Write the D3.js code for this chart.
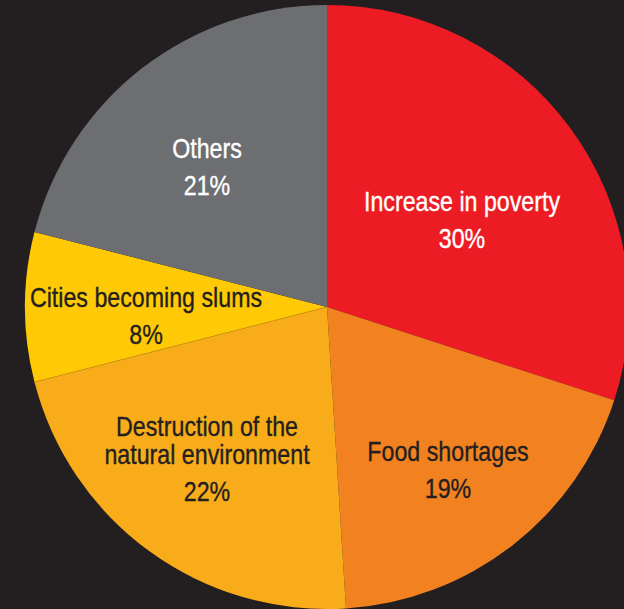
<!DOCTYPE html>
<html>
<head>
<meta charset="utf-8">
<script src="https://cdn.jsdelivr.net/npm/d3@7"></script>
<style>
  html, body { margin: 0; padding: 0; background: #231f20; }
  svg { display: block; }
  text { font-family: "Liberation Sans", Arial, "Helvetica", sans-serif; }
</style>
</head>
<body>
<svg id="chart" width="624" height="609"></svg>
<script>
// Slices in drawing order, clockwise from 12 o'clock
const categories = ["Increase in poverty", "Food shortages", "Destruction of the natural environment", "Cities becoming slums", "Others"];
const values = [30, 19, 22, 8, 21];
const colors = ["#ed1c24", "#f28220", "#f9ac1a", "#ffca05", "#6d6e71"];
const labelColors = ["#ffffff", "#231f20", "#231f20", "#231f20", "#ffffff"];
// Label lines per slice (wrapped text)
const labelLines = [["Increase in poverty"], ["Food shortages"], ["Destruction of the", "natural environment"], ["Cities becoming slums"], ["Others"]];
// Label anchor offsets (relative to centre) for the first line baseline
const labelPos = [[135, -96], [121, 154], [-120, 129], [-181, 0], [-120, -149]];

const width = 624, height = 609;
const cx = 327, cy = 307, radius = 302;

const svg = d3.select("#chart");
const g = svg.append("g").attr("transform", `translate(${cx},${cy})`);

const pie = d3.pie().sort(null).value(d => d.value);
const arc = d3.arc().innerRadius(0).outerRadius(radius);

const data = categories.map((c, i) => ({ name: c, value: values[i], i }));
const arcs = pie(data);

g.selectAll("path.slice")
  .data(arcs)
  .join("path")
  .attr("class", "slice")
  .attr("d", arc)
  .attr("fill", d => colors[d.data.i]);

// Thin separator between the two yellow slices
g.selectAll("path.sep")
  .data(arcs.filter(d => d.data.i === 3))
  .join("path")
  .attr("class", "sep")
  .attr("d", d => {
    const a = d.startAngle;
    return `M0,0L${radius * Math.sin(a)},${-radius * Math.cos(a)}`;
  })
  .attr("stroke", "#c98f10")
  .attr("stroke-width", 0.6)
  .attr("fill", "none");

const fontSize = 27;
const condense = 0.86; // horizontal squeeze for a condensed look
const lineGap = 28;
const pctGap = 37;

const labels = g.selectAll("g.label")
  .data(arcs)
  .join("g")
  .attr("class", "label")
  .attr("transform", d => `translate(${labelPos[d.data.i][0]},${labelPos[d.data.i][1]}) scale(${condense},1)`)
  .attr("fill", d => labelColors[d.data.i])
  .attr("stroke", d => labelColors[d.data.i])
  .attr("stroke-width", 0.35)
  .style("font-size", fontSize + "px")
  .attr("text-anchor", "middle");

labels.each(function(d) {
  const sel = d3.select(this);
  const lines = labelLines[d.data.i];
  lines.forEach((ln, k) => {
    sel.append("text").attr("x", 0).attr("y", k * lineGap).text(ln);
  });
  sel.append("text")
    .attr("x", 0)
    .attr("y", (lines.length - 1) * lineGap + pctGap)
    .text(d.data.value + "%");
});
</script>
</body>
</html>
